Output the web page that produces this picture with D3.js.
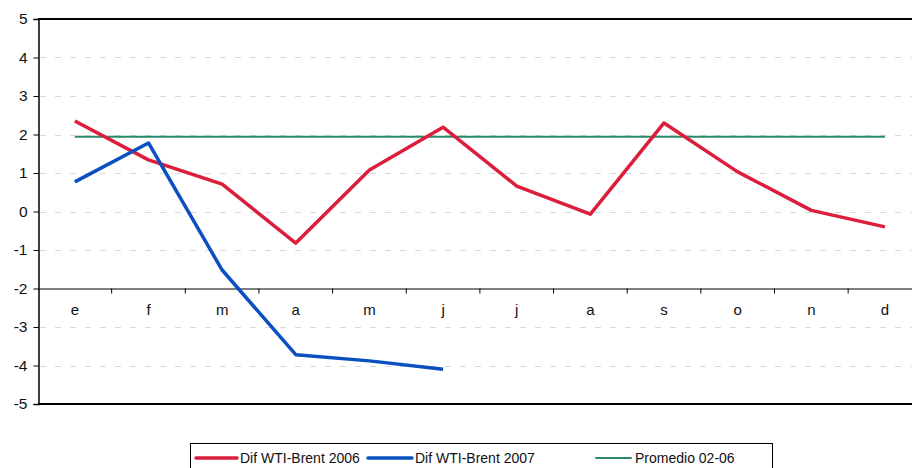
<!DOCTYPE html>
<html>
<head>
<meta charset="utf-8">
<script src="https://cdn.jsdelivr.net/npm/d3@7/dist/d3.min.js"></script>
<style>
body { margin: 0; background: #fff; }
svg { font-family: Arial, "Liberation Sans", sans-serif; }
</style>
</head>
<body>
<svg width="912" height="468"></svg>
<script>
var months = ["e", "f", "m", "a", "m", "j", "j", "a", "s", "o", "n", "d"];
var dif2006 = [2.35, 1.34, 0.71, -0.82, 1.08, 2.19, 0.66, -0.07, 2.30, 1.03, 0.03, -0.40];
var dif2007 = [0.77, 1.78, -1.52, -3.72, -3.88, -4.10];
var promedio = 1.94;
var yTicks = [-5, -4, -3, -2, -1, 0, 1, 2, 3, 4, 5];
var legendNames = ["Dif WTI-Brent 2006", "Dif WTI-Brent 2007", "Promedio 02-06"];

var colors = ["#dc1e3c", "#0a50c0", "#2a8a68"];

var svg = d3.select("svg");
var plotLeft = 38, plotTop = 19, plotBottom = 404;
var band = 73.65;

var x = d3.scaleBand()
    .domain(d3.range(months.length))
    .range([plotLeft, plotLeft + band * months.length]);

var y = d3.scaleLinear()
    .domain([-5, 5])
    .range([plotBottom, plotTop]);

var cx = function(i) { return x(i) + x.bandwidth() / 2; };

// gridlines
svg.append("g").selectAll("line")
    .data(yTicks.filter(function(d) { return d != 5 && d != -5 && d != -2; }))
    .enter().append("line")
    .attr("x1", plotLeft + 2)
    .attr("x2", 912)
    .attr("y1", function(d) { return Math.round(y(d)) + 0.5; })
    .attr("y2", function(d) { return Math.round(y(d)) + 0.5; })
    .attr("stroke", "#d4d8da")
    .attr("stroke-width", 1.2)
    .attr("stroke-dasharray", "6,9");

// top and bottom frame
svg.append("line")
    .attr("x1", plotLeft).attr("x2", 912)
    .attr("y1", y(5)).attr("y2", y(5))
    .attr("stroke", "#000").attr("stroke-width", 2);
svg.append("line")
    .attr("x1", plotLeft).attr("x2", 912)
    .attr("y1", y(-5)).attr("y2", y(-5))
    .attr("stroke", "#000").attr("stroke-width", 2);

// y axis
var yAxis = d3.axisLeft(y).tickValues(yTicks).tickSize(5).tickPadding(6)
    .tickFormat(function(d) { return String(d); });
var gy = svg.append("g")
    .attr("transform", "translate(" + (plotLeft + 0.5) + ",0)")
    .call(yAxis);
gy.select(".domain").attr("stroke", "#000").attr("stroke-width", 1.5);
gy.selectAll("text").attr("font-size", 15.5).attr("fill", "#111")
    .attr("font-family", "Arial, 'Liberation Sans', sans-serif");

// x axis at y = -2
var xAxis = d3.axisBottom(x).tickSize(0).tickFormat(function(i) { return months[i]; });
var gx = svg.append("g")
    .attr("transform", "translate(0," + (Math.round(y(-2)) + 0.5) + ")")
    .call(xAxis);
gx.select(".domain").attr("stroke", "#000").attr("stroke-width", 1.2);
gx.selectAll("text").attr("font-size", 15).attr("fill", "#111")
    .attr("dy", "1.55em")
    .attr("font-family", "Arial, 'Liberation Sans', sans-serif");
gx.selectAll(".sep")
    .data(d3.range(1, months.length))
    .enter().append("line")
    .attr("class", "sep")
    .attr("x1", function(i) { return x(i); })
    .attr("x2", function(i) { return x(i); })
    .attr("y1", 0).attr("y2", 5)
    .attr("stroke", "#000");

var line = d3.line()
    .x(function(d, i) { return cx(i); })
    .y(function(d) { return y(d); });

svg.append("path")
    .datum(months.map(function() { return promedio; }))
    .attr("fill", "none")
    .attr("stroke", colors[2])
    .attr("stroke-width", 2)
    .attr("d", line);

svg.append("path")
    .datum(dif2006)
    .attr("fill", "none")
    .attr("stroke", colors[0])
    .attr("stroke-width", 3.5)
    .attr("stroke-linejoin", "round")
    .attr("d", line);

svg.append("path")
    .datum(dif2007)
    .attr("fill", "none")
    .attr("stroke", colors[1])
    .attr("stroke-width", 3.5)
    .attr("stroke-linejoin", "round")
    .attr("d", line);

// legend
var legend = svg.append("g");
legend.append("rect")
    .attr("x", 190.5).attr("y", 443.5)
    .attr("width", 582).attr("height", 30)
    .attr("fill", "#fff").attr("stroke", "#000").attr("stroke-width", 1);

var legendPos = [[196, 237, 240], [368, 412, 415], [596, 631, 635]];
legendNames.forEach(function(name, i) {
    var p = legendPos[i];
    legend.append("line")
        .attr("x1", p[0]).attr("x2", p[1])
        .attr("y1", 458).attr("y2", 458)
        .attr("stroke", colors[i])
        .attr("stroke-width", i == 2 ? 2 : 3.5)
        .attr("stroke-linecap", "round");
    legend.append("text")
        .attr("x", p[2]).attr("y", 463)
        .attr("font-size", 14)
        .attr("fill", "#111")
        .text(name);
});
</script>
</body>
</html>
